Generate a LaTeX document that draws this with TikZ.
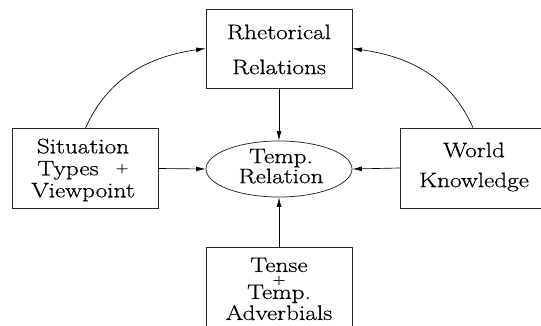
\documentclass[tikz,border=0pt]{standalone}
\usepackage{fontspec}
\newfontfamily\labfont{Latin Modern Roman}[FakeStretch=1.2,FakeBold=0.6]
\usetikzlibrary{arrows.meta,shapes.geometric}
\newcommand\labsize[1]{\labfont\fontsize{21pt}{#1pt}\selectfont}
\newcommand\smallplus{\raisebox{3pt}{\fontsize{14pt}{14pt}\selectfont +}}
\begin{document}
\lineskiplimit=-30pt
\begin{tikzpicture}[x=1pt,y=-1pt,
  box/.style={draw=black!85, line width=0.75pt, minimum width=146pt,
    minimum height=80pt, inner sep=0pt},
  oval/.style={draw=black!85, line width=0.75pt, ellipse, minimum width=146pt,
    minimum height=56pt, inner sep=0pt},
  lbl/.style={inner sep=0pt, align=center, font=\labsize{#1}},
  arr/.style={-{Latex[length=9.5pt,width=4.8pt]}, line width=0.65pt}]
\clip (0,0) rectangle (541,326);

% boxes and the central oval
\node[box, minimum height=79pt] (rr) at (279,48.5) {};
\node[box] (sv) at (85.5,168.5) {};
\node[box] (wk) at (473,168) {};
\node[box, minimum height=90pt] (tt) at (279,292) {};
\node[oval] (tr) at (279,169) {};

% labels
\node[lbl=35] (rrt) at (279,49.5) {Rhetorical\\Relations};
\node[lbl=22] (svt) at (83,170) {Situation\\Types\hspace{17pt}\smallplus\\Viewpoint};
\node[lbl=30] (wkt) at (474,167) {World\\Knowledge};
\node[lbl=20] (trt) at (281,166.2) {Temp.\\Relation};
\node[lbl=13] (ttt) at (279,288.9) {Tense\\[2pt]\smallplus\\[-1pt]Temp.\\[8pt]Adverbials};

% influences on the temporal relation
\draw[arr] (rr.south) -- (tr.north);
\draw[arr] (sv.east) -- (tr.west);
\draw[arr] (wk.west) -- (tr.east);
\draw[arr] (tt.north) -- (tr.south);

% feeding the rhetorical relations
\draw[arr] (sv.north) to[out=66,in=188] (rr.west);
\draw[arr] (wk.north) to[out=114,in=-8] (rr.east);
\end{tikzpicture}
\end{document}
